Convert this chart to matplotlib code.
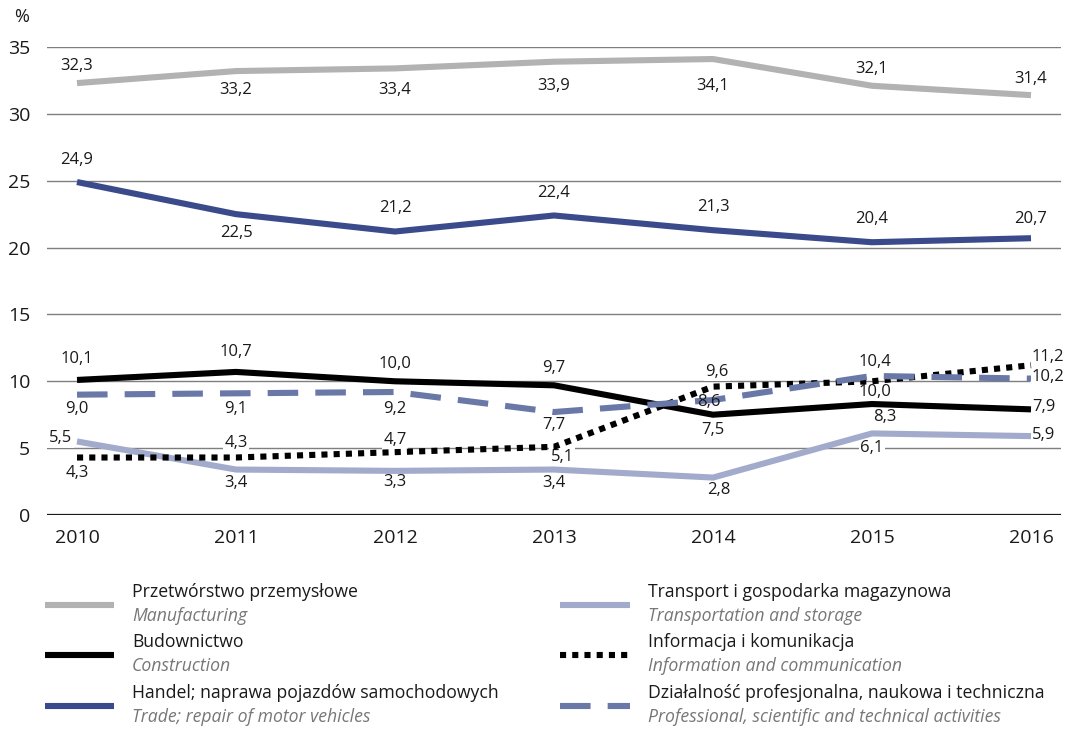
import matplotlib
matplotlib.use("Agg")
import matplotlib.pyplot as plt
from matplotlib.lines import Line2D

plt.rcParams['font.family'] = ['Open Sans', 'DejaVu Sans']

years = [2010, 2011, 2012, 2013, 2014, 2015, 2016]

manufacturing = [32.3, 33.2, 33.4, 33.9, 34.1, 32.1, 31.4]
trade = [24.9, 22.5, 21.2, 22.4, 21.3, 20.4, 20.7]
construction = [10.1, 10.7, 10.0, 9.7, 7.5, 8.3, 7.9]
professional = [9.0, 9.1, 9.2, 7.7, 8.6, 10.4, 10.2]
information = [4.3, 4.3, 4.7, 5.1, 9.6, 10.0, 11.2]
transport = [5.5, 3.4, 3.3, 3.4, 2.8, 6.1, 5.9]

yticks = [0, 5, 10, 15, 20, 25, 30, 35]

names_pl = {
    'man': "Przetwórstwo przemysłowe",
    'con': "Budownictwo",
    'trade': "Handel; naprawa pojazdów samochodowych",
    'trans': "Transport i gospodarka magazynowa",
    'info': "Informacja i komunikacja",
    'prof': "Działalność profesjonalna, naukowa i techniczna",
}
names_en = {
    'man': "Manufacturing",
    'con': "Construction",
    'trade': "Trade; repair of motor vehicles",
    'trans': "Transportation and storage",
    'info': "Information and communication",
    'prof': "Professional, scientific and technical activities",
}
legend_order = ['man', 'con', 'trade', 'trans', 'info', 'prof']

# label placement offsets in pixels (dx, dy up), alignment; 'C' = centered, drawn over the lines
off_man = [(0, 17, 'c'), (0, -19, 'c'), (0, -22, 'c'), (0, -24, 'c'), (0, -27, 'c'), (0, 17, 'c'), (0, 16, 'c')]
off_trade = [(0, 22, 'c'), (0, -19, 'c'), (0, 24, 'c'), (0, 22, 'c'), (0, 23, 'c'), (0, 23, 'c'), (0, 19, 'c')]
off_con = [(0, 21, 'c'), (0, 20, 'c'), (0, 17, 'c'), (0, 17, 'c'), (0, -15, 'c'), (13, -13, 'c'), (1, 2, 'l')]
off_prof = [(0, -14, 'c'), (0, -16, 'c'), (0, -17, 'c'), (0, -13, 'c'), (-4, -2, 'C'), (3, 14, 'c'), (1, 2, 'l')]
off_info = [(0, -15, 'c'), (0, 15, 'c'), (0, 12, 'c'), (8, -10, 'c'), (4, 15, 'c'), (3, -11, 'c'), (1, 8, 'l')]
off_trans = [(-5, 3, 'r'), (0, -13, 'c'), (0, -11, 'c'), (0, -13, 'c'), (6, -12, 'c'), (0, -15, 'c'), (1, 1, 'l')]

W, H = 1066, 730
fig = plt.figure(figsize=(W / 100, H / 100), dpi=100)
ax = fig.add_axes([47 / W, 1 - 515 / H, (1061 - 47) / W, (515 - 47) / H])

ax.set_xlim(2010 - 30 / 159, 2016 + 30 / 159)
ax.set_ylim(0, 35)
ax.set_yticks(yticks)
ax.set_xticks(years)
for s in ax.spines.values():
    s.set_visible(False)
for t in yticks:
    if t == 0:
        ax.axhline(t, color='#1a1a1a', lw=1.6, zorder=1)
    else:
        ax.axhline(t, color='#7f7f7f', lw=1.0, zorder=1)
ax.tick_params(length=0, labelsize=14, colors='#1a1a1a')
ax.tick_params(axis='y', pad=12)
ax.tick_params(axis='x', pad=10)

lw = 4.4
series = {
    'man': (manufacturing, dict(color='#b2b2b2', lw=lw, solid_capstyle='butt'), off_man),
    'trade': (trade, dict(color='#3b4a8b', lw=lw, solid_capstyle='butt'), off_trade),
    'con': (construction, dict(color='#000000', lw=lw, solid_capstyle='butt'), off_con),
    'trans': (transport, dict(color='#a2abcc', lw=lw, solid_capstyle='butt'), off_trans),
    'info': (information, dict(color='#000000', lw=lw, linestyle=(0, (1, 1.0)), dash_capstyle='butt'), off_info),
    'prof': (professional, dict(color='#6a78a8', lw=lw, linestyle=(0, (5, 2.8)), dash_capstyle='butt'), off_prof),
}
ha_map = {'c': 'center', 'C': 'center', 'l': 'left', 'r': 'right'}

for key in ['man', 'trade', 'con', 'trans', 'info', 'prof']:
    vals, style, offs = series[key]
    ax.plot(years, vals, zorder=3, **style)
    for x, v, (dx, dy, ha) in zip(years, vals, offs):
        over = ha == 'C'
        ax.annotate(f"{v:.1f}".replace('.', ','), (x, v),
                    xytext=(dx * 0.72, dy * 0.72), textcoords='offset points',
                    ha=ha_map[ha], va='center', fontsize=12, color='#1a1a1a',
                    zorder=5 if over else 2, annotation_clip=False,
                    bbox=None if over else dict(boxstyle='square,pad=0.1', fc='white', ec='none'))

fig.text(22 / W, 1 - 17 / H, '%', fontsize=13, ha='center', va='center', color='#1a1a1a')

# legend drawn manually
lax = fig.add_axes([0, 0, 1, 1])
lax.set_xlim(0, W)
lax.set_ylim(H, 0)
lax.axis('off')
rows_y = [605, 655, 706]
cols = [(45, 114, 132), (560, 630, 648)]
for i, key in enumerate(legend_order):
    vals, style, offs = series[key]
    x0, x1, xt = cols[i // 3]
    y = rows_y[i % 3]
    lax.add_line(Line2D([x0, x1], [y, y], **style))
    lax.text(xt, y - 13, names_pl[key], fontsize=12.7, color='#1a1a1a', va='center', ha='left')
    lax.text(xt, y + 11, names_en[key], fontsize=12.7, color='#777777', va='center', ha='left',
             style='italic')

fig.savefig('out.png', dpi=100)
